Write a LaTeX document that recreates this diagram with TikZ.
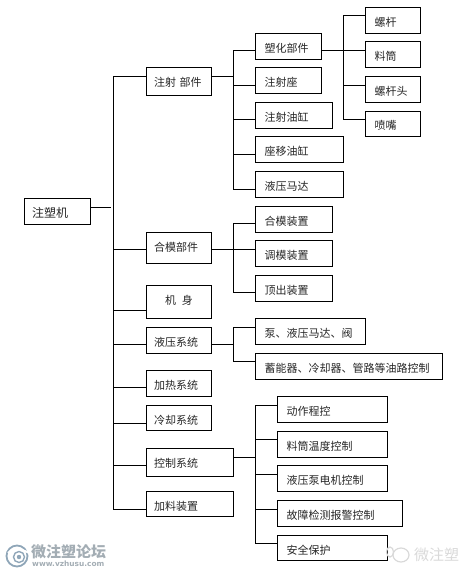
\documentclass[tikz,border=0pt]{standalone}
\usepackage{fontspec}
\setmainfont{Noto Sans CJK SC}
\newfontfamily\sitefont{DejaVu Sans}
\usetikzlibrary{arrows.meta}
\definecolor{markgray}{HTML}{A3ADB4}
\definecolor{markblue}{HTML}{8FA6B8}
\definecolor{markpale}{HTML}{D9D9D9}
\tikzset{
  partbox/.style={draw, rectangle, anchor=north west, line width=1pt, outer sep=0pt,
    inner xsep=7.5pt, inner ysep=0pt, minimum height=26pt, font=\fontsize{11}{13}\selectfont,
    text=black!85, text height=12pt, text depth=0pt, minimum width=#1pt, text width=#1pt-15pt},
  deepbox/.style={partbox=#1, inner xsep=9pt, text width=#1pt-18pt},
  branch/.style={line width=1pt}
}
\begin{document}
\begin{tikzpicture}[x=1pt,y=-1pt]
\useasboundingbox (0,0) rectangle (471,577);
% root
\node[partbox=66, font=\fontsize{12}{14}\selectfont, text height=12.7pt] (root) at (24.5,198.5) {注塑机};
% first level
\node[partbox=65, minimum height=28pt, text height=9.4pt] (inject) at (146.5,67.5) {注射 部件};
\node[partbox=65, minimum height=31pt, text height=7pt] (mold) at (146.5,232.5) {合模部件};
\node[partbox=65, minimum height=33pt, text height=4.4pt] (body) at (146.5,285.5) {\hspace{11pt}机\hspace{6pt}身};
\node[partbox=65] (hydraulic) at (146.5,327.5) {液压系统};
\node[partbox=65] (heating) at (146.5,370.5) {加热系统};
\node[partbox=65, minimum height=25pt] (cooling) at (146.5,405.5) {冷却系统};
\node[partbox=87, minimum height=28pt, text height=9.4pt] (control) at (146.5,448.5) {控制系统};
\node[partbox=87, minimum height=25pt] (feeding) at (146.5,491.5) {加料装置};
% injection parts
\node[deepbox=66] (plastic) at (255.5,33.5) {塑化部件};
\node[deepbox=66] (seat) at (255.5,67.5) {注射座};
\node[deepbox=77] (injcyl) at (255.5,102.5) {注射油缸};
\node[deepbox=88] (shiftcyl) at (255.5,136.5) {座移油缸};
\node[deepbox=88] (motor) at (255.5,171.5) {液压马达};
% plasticizing parts
\node[deepbox=55] (screw) at (365.5,7.5) {螺杆};
\node[deepbox=55] (barrel) at (365.5,41.5) {料筒};
\node[deepbox=55] (head) at (365.5,76.5) {螺杆头};
\node[deepbox=55, minimum height=25pt] (nozzle) at (365.5,111.5) {喷嘴};
% mold parts
\node[deepbox=77] (closing) at (255.5,206.5) {合模装置};
\node[deepbox=77] (adjust) at (255.5,240.5) {调模装置};
\node[deepbox=77] (eject) at (255.5,275.5) {顶出装置};
% hydraulic parts
\node[deepbox=110] (pump) at (255.5,318.5) {泵、液压马达、阀};
\node[deepbox=187] (storage) at (255.5,353.5) {蓄能器、冷却器、管路等油路控制};
% control parts
\node[deepbox=110] (program) at (277.5,396.5) {动作程控};
\node[deepbox=110] (temper) at (277.5,431.5) {料筒温度控制};
\node[deepbox=110] (pumpctl) at (277.5,465.5) {液压泵电机控制};
\node[deepbox=125] (fault) at (277.5,500.5) {故障检测报警控制};
\node[deepbox=110, minimum height=25pt] (safety) at (277.5,535.5) {安全保护};
% junctions
\coordinate (rootend) at (111,207.3);
\coordinate (trunk) at (113.5,207.3);
\coordinate (injectbus) at (233.5,76.5);
\coordinate (plasticbus) at (343.5,50.5);
\coordinate (moldbus) at (233.5,249.5);
\coordinate (hydbus) at (233.5,344.5);
\coordinate (ctrlbus) at (255.5,457.5);
% connectors
\draw[branch] ([yshift=4.2pt]root.east) -- (rootend);
\draw[branch] (trunk) |- ([yshift=5pt]inject.west);
\draw[branch] (trunk) |- ([yshift=-1.5pt]mold.west);
\draw[branch] (trunk) |- ([yshift=-8.5pt]body.west);
\draw[branch] (trunk) |- ([yshift=-4pt]hydraulic.west);
\draw[branch] (trunk) |- ([yshift=-4pt]heating.west);
\draw[branch] (trunk) |- ([yshift=-5pt]cooling.west);
\draw[branch] (trunk) |- ([yshift=-3pt]control.west);
\draw[branch] (trunk) |- ([yshift=-5.5pt]feeding.west);
\draw[branch] ([yshift=5pt]inject.east) -- (injectbus);
\draw[branch] (injectbus) |- ([yshift=-4pt]plastic.west);
\draw[branch] (injectbus) |- ([yshift=-5pt]seat.west);
\draw[branch] (injectbus) |- ([yshift=-4pt]injcyl.west);
\draw[branch] (injectbus) |- ([yshift=-5pt]shiftcyl.west);
\draw[branch] (injectbus) |- ([yshift=-5pt]motor.west);
\draw[branch] ([yshift=-4pt]plastic.east) -- (plasticbus);
\draw[branch] (plasticbus) |- ([yshift=5pt]screw.west);
\draw[branch] (plasticbus) |- ([yshift=4pt]barrel.west);
\draw[branch] (plasticbus) |- ([yshift=4pt]head.west);
\draw[branch] (plasticbus) |- ([yshift=4.5pt]nozzle.west);
\draw[branch] ([yshift=-1.5pt]mold.east) -- (moldbus);
\draw[branch] (moldbus) |- ([yshift=-4pt]closing.west);
\draw[branch] (moldbus) |- ([yshift=4pt]adjust.west);
\draw[branch] (moldbus) |- ([yshift=-4pt]eject.west);
\draw[branch] ([yshift=-4pt]hydraulic.east) -- (hydbus);
\draw[branch] (hydbus) |- ([yshift=4pt]pump.west);
\draw[branch] (hydbus) |- ([yshift=5pt]storage.west);
\draw[branch] ([yshift=5pt]control.east) -- (ctrlbus);
\draw[branch] (ctrlbus) |- ([yshift=4pt]program.west);
\draw[branch] (ctrlbus) |- ([yshift=5pt]temper.west);
\draw[branch] (ctrlbus) |- ([yshift=4pt]pumpctl.west);
\draw[branch] (ctrlbus) |- ([yshift=4pt]fault.west);
\draw[branch] (ctrlbus) |- ([yshift=4.5pt]safety.west);
% watermark, left
\draw[markblue, line width=1.8pt] (17,556) circle (10.5);
\draw[markblue, line width=1.4pt] (19,557) circle (5.5);
\fill[markblue] (19,557) circle (2.2);
\draw[white, line width=2pt] (8,553) .. controls (14,547) and (22,549) .. (29,553);
\node[font=\fontsize{15}{17}\selectfont\bfseries, text=markgray, anchor=west, inner sep=0pt] (forum) at (31,552) {微注塑论坛};
\node[font=\sitefont\fontsize{7.4}{9}\selectfont\bfseries, text=markgray, anchor=west, inner sep=0pt] (site) at (32,564) {www.vzhusu.com};
% watermark, right
\draw[markpale, line width=1.2pt] (401,555) ellipse (8 and 7);
\draw[markpale, line width=1.2pt] (390,552) ellipse (3.5 and 5);
\node[font=\fontsize{15}{17}\selectfont, text=markpale, anchor=west, inner sep=0pt] (wechat) at (414,555) {微注塑};
\end{tikzpicture}
\end{document}
